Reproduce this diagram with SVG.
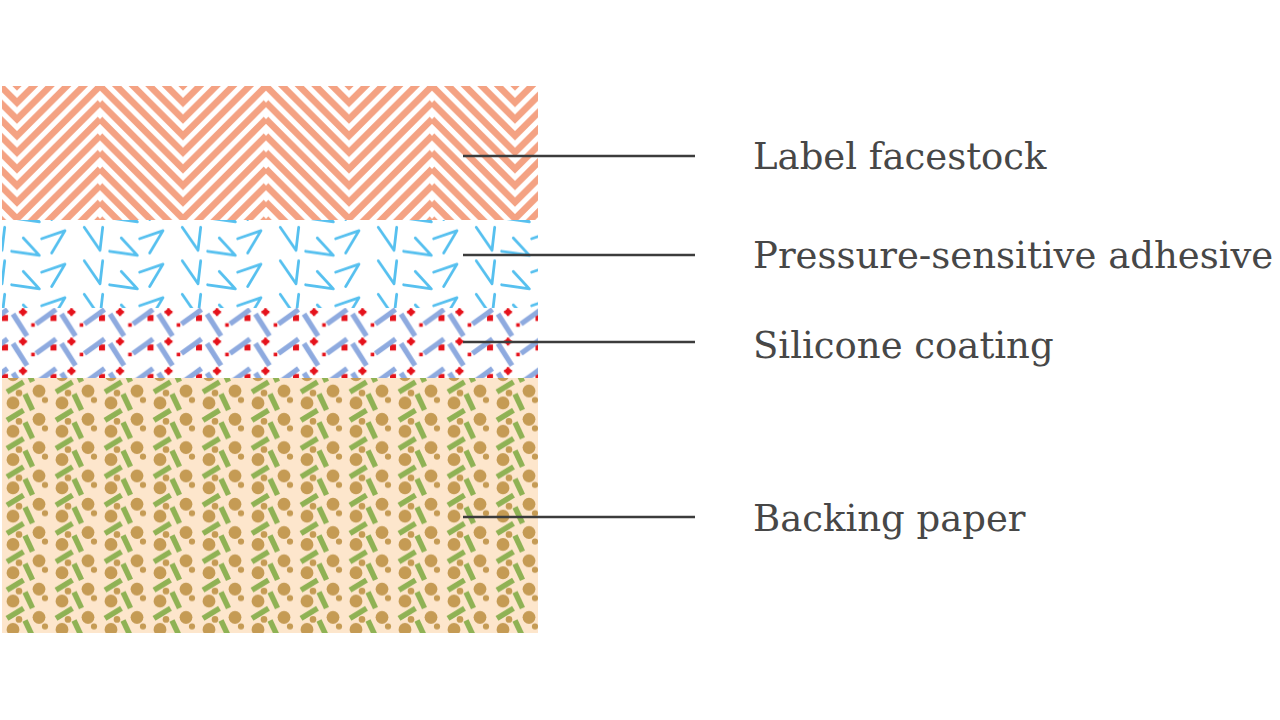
<svg xmlns="http://www.w3.org/2000/svg" xmlns:xlink="http://www.w3.org/1999/xlink" width="1280" height="720" viewBox="0 0 1280 720">
  <style>
    .lbl { font-family: "DejaVu Serif", "Liberation Serif", serif; font-size: 37px; fill: #474747; }
    .leader { stroke: #3c3c3c; stroke-width: 2.5; fill: none; }
    .adh { stroke: #56c0ef; stroke-width: 2.8; fill: none; stroke-linecap: round; stroke-linejoin: round; }
    .sil { stroke: #8eaadf; stroke-width: 5.2; stroke-linecap: butt; }
    .red { fill: #e5121b; }
    .grn { stroke: #8fb254; stroke-width: 5.5; stroke-linecap: butt; }
    .brn { fill: #c59b54; }
  </style>
  <defs>
    <pattern id="chev" patternUnits="userSpaceOnUse" x="-66" y="86" width="166" height="16.6">
      <path d="M0,-99.6 L83,-16.6 L166,-99.6 M0,-83 L83,0 L166,-83 M0,-66.4 L83,16.6 L166,-66.4 M0,-49.8 L83,33.2 L166,-49.8 M0,-33.2 L83,49.8 L166,-33.2 M0,-16.6 L83,66.4 L166,-16.6 M0,0 L83,83 L166,0 M0,16.6 L83,99.6 L166,16.6" stroke="#f4a283" stroke-width="6.6" fill="none"/>
    </pattern>
    <g id="adhShape">
      <polyline class="adh" points="84.3,9.3 100,32.3 102.7,9.3"/>
      <polyline class="adh" points="23.3,20 39.3,37.3 11.7,33.3"/>
      <polyline class="adh" points="41.7,20.7 65,12.7 51.7,35"/>
    </g>
    <pattern id="adhP" patternUnits="userSpaceOnUse" x="0" y="218" width="98" height="33.5">
      <use xlink:href="#adhShape"/>
      <use xlink:href="#adhShape" x="-98"/>
      <use xlink:href="#adhShape" x="98"/>
      <use xlink:href="#adhShape" y="-33.5"/>
      <use xlink:href="#adhShape" x="-98" y="-33.5"/>
      <use xlink:href="#adhShape" x="98" y="-33.5"/>
      <use xlink:href="#adhShape" y="33.5"/>
      <use xlink:href="#adhShape" x="-98" y="33.5"/>
      <use xlink:href="#adhShape" x="98" y="33.5"/>
    </pattern>
    <g id="silShape">
      <line class="sil" x1="13" y1="14" x2="27" y2="36"/>
      <line class="sil" x1="36" y1="24" x2="56" y2="9.5"/>
      <rect class="red" x="2" y="15" width="6" height="6"/>
      <circle class="red" cx="23" cy="12" r="3"/>
      <path d="M19,12 H27 M23,8 V16" stroke="#e5121b" stroke-width="2.4"/>
      <rect class="red" x="31.2" y="23.2" width="3.6" height="3.6"/>
    </g>
    <pattern id="silP" patternUnits="userSpaceOnUse" x="0" y="300" width="48.5" height="29.5">
      <use xlink:href="#silShape"/>
      <use xlink:href="#silShape" x="-48.5"/>
      <use xlink:href="#silShape" x="48.5"/>
      <use xlink:href="#silShape" y="-29.5"/>
      <use xlink:href="#silShape" x="-48.5" y="-29.5"/>
      <use xlink:href="#silShape" x="48.5" y="-29.5"/>
      <use xlink:href="#silShape" y="29.5"/>
      <use xlink:href="#silShape" x="-48.5" y="29.5"/>
      <use xlink:href="#silShape" x="48.5" y="29.5"/>
    </pattern>
    <g id="bakShape">
      <line class="grn" x1="25" y1="18" x2="32.5" y2="34"/>
      <line class="grn" x1="7" y1="16" x2="23.5" y2="6"/>
      <circle class="brn" cx="39" cy="15" r="6.4"/>
      <circle class="brn" cx="13" cy="27" r="6.4"/>
      <circle class="brn" cx="19" cy="17" r="3.3"/>
      <circle class="brn" cx="45" cy="24" r="3.1"/>
    </g>
    <pattern id="bakP" patternUnits="userSpaceOnUse" x="0" y="376" width="49" height="28.3">
      <rect width="49" height="28.3" fill="#fde6cc"/>
      <use xlink:href="#bakShape"/>
      <use xlink:href="#bakShape" x="-49"/>
      <use xlink:href="#bakShape" x="49"/>
      <use xlink:href="#bakShape" y="-28.3"/>
      <use xlink:href="#bakShape" x="-49" y="-28.3"/>
      <use xlink:href="#bakShape" x="49" y="-28.3"/>
      <use xlink:href="#bakShape" y="28.3"/>
      <use xlink:href="#bakShape" x="-49" y="28.3"/>
      <use xlink:href="#bakShape" x="49" y="28.3"/>
    </pattern>
  </defs>
  <rect width="1280" height="720" fill="#ffffff"/>
  <g id="facestock">
    <rect x="2" y="86" width="536" height="134" fill="url(#chev)"/>
    <text class="lbl" x="753" y="169">Label facestock</text>
  </g>
  <g id="adhesive">
    <rect x="2" y="220" width="536" height="88" fill="url(#adhP)"/>
    <text class="lbl" x="753" y="268">Pressure-sensitive adhesive</text>
  </g>
  <g id="silicone">
    <rect x="2" y="308" width="536" height="70" fill="url(#silP)"/>
    <text class="lbl" x="753" y="358">Silicone coating</text>
  </g>
  <g id="backing">
    <rect x="2" y="378" width="536" height="255" fill="url(#bakP)"/>
    <text class="lbl" x="753" y="531">Backing paper</text>
  </g>
  <g id="connectors">
    <line class="leader" x1="463" y1="156" x2="695" y2="156"/>
    <line class="leader" x1="463" y1="255" x2="695" y2="255"/>
    <line class="leader" x1="463" y1="342" x2="695" y2="342"/>
    <line class="leader" x1="463" y1="517" x2="695" y2="517"/>
  </g>
</svg>
